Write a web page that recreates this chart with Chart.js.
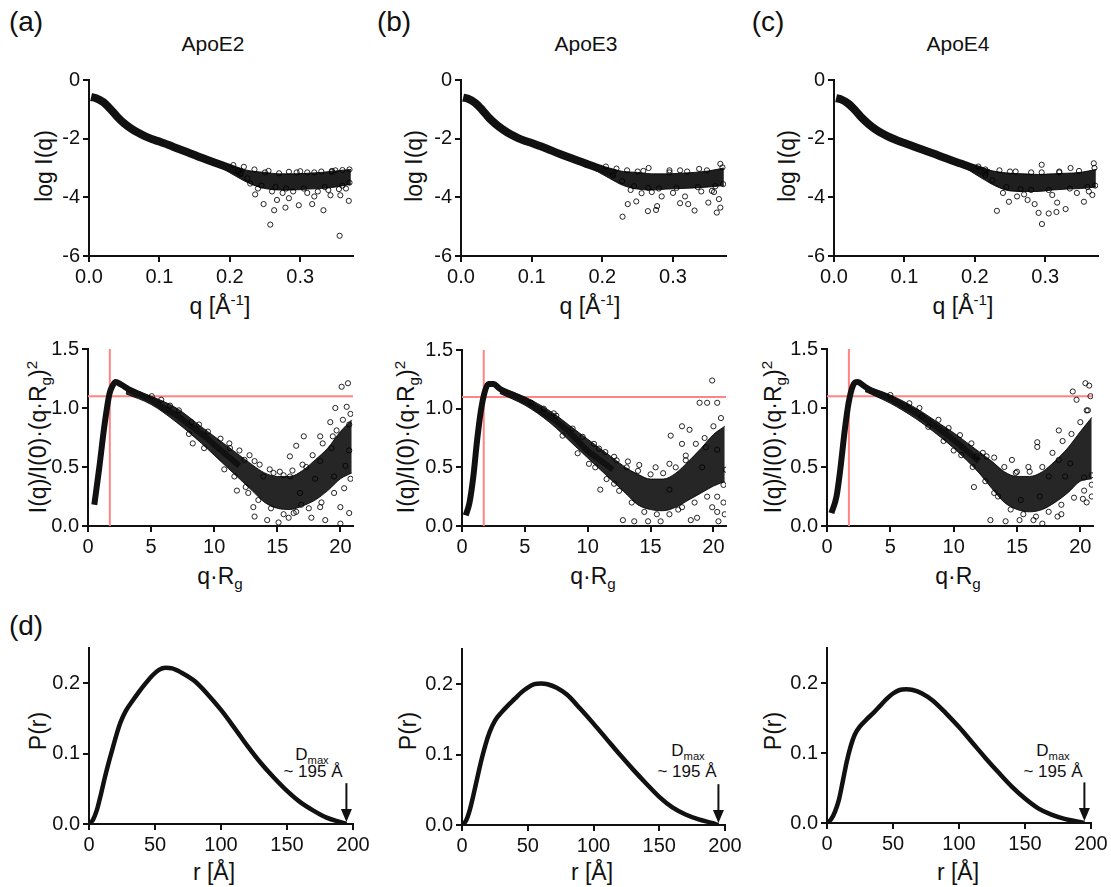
<!DOCTYPE html>
<html>
<head>
<meta charset="utf-8">
<script src="https://cdn.jsdelivr.net/npm/chart.js@4.4.0/dist/chart.umd.min.js"></script>
<style>
  body{margin:0;background:#fff;}
  #fig{position:relative;width:1111px;height:887px;overflow:hidden;font-family:"Liberation Sans",Arial,sans-serif;color:#111;}
  #fig canvas{position:absolute;}
  .t{position:absolute;white-space:nowrap;line-height:1;transform:translate(-50%,-50%);}
  .rot{transform:translate(-50%,-50%) rotate(-90deg);}
  .sup{font-size:0.66em;position:relative;top:-0.6em;}
  .sub{font-size:0.66em;position:relative;top:0.35em;}
  .lab{font-size:28px;}
  .ttl{font-size:21px;}
  .ax{font-size:23px;}
  .dm{font-size:17px;}
</style>
</head>
<body>
<div id="fig">
  <div class="t lab" style="left:26px;top:22px">(a)</div>
  <div class="t lab" style="left:394px;top:22px">(b)</div>
  <div class="t lab" style="left:768px;top:22px">(c)</div>
  <div class="t lab" style="left:26px;top:626px">(d)</div>

  <div class="t ttl" style="left:213px;top:43px">ApoE2</div>
  <div class="t ttl" style="left:586px;top:43px">ApoE3</div>
  <div class="t ttl" style="left:958px;top:43px">ApoE4</div>

  <div class="t ax rot" style="left:44px;top:166px">log I(q)</div>
  <div class="t ax rot" style="left:414px;top:166px">log I(q)</div>
  <div class="t ax rot" style="left:787px;top:166px">log I(q)</div>
  <div class="t ax" style="left:220px;top:306px">q [Å<span class="sup">-1</span>]</div>
  <div class="t ax" style="left:590px;top:306px">q [Å<span class="sup">-1</span>]</div>
  <div class="t ax" style="left:963px;top:306px">q [Å<span class="sup">-1</span>]</div>

  <div class="t ax rot" style="left:38px;top:437px">I(q)/I(0)·(q·R<span class="sub">g</span>)<span class="sup">2</span></div>
  <div class="t ax rot" style="left:406px;top:437px">I(q)/I(0)·(q·R<span class="sub">g</span>)<span class="sup">2</span></div>
  <div class="t ax rot" style="left:773px;top:437px">I(q)/I(0)·(q·R<span class="sub">g</span>)<span class="sup">2</span></div>
  <div class="t ax" style="left:220px;top:576px">q·R<span class="sub">g</span></div>
  <div class="t ax" style="left:593px;top:576px">q·R<span class="sub">g</span></div>
  <div class="t ax" style="left:958px;top:576px">q·R<span class="sub">g</span></div>

  <div class="t ax rot" style="left:38px;top:731px">P(r)</div>
  <div class="t ax rot" style="left:408px;top:731px">P(r)</div>
  <div class="t ax rot" style="left:773px;top:731px">P(r)</div>
  <div class="t ax" style="left:214px;top:872px">r [Å]</div>
  <div class="t ax" style="left:592px;top:872px">r [Å]</div>
  <div class="t ax" style="left:958px;top:872px">r [Å]</div>

  <div class="t dm" style="left:312px;top:754px">D<span class="sub">max</span></div>
  <div class="t dm" style="left:313px;top:771px">~ 195 Å</div>
  <div class="t dm" style="left:688px;top:750px">D<span class="sub">max</span></div>
  <div class="t dm" style="left:687px;top:771px">~ 195 Å</div>
  <div class="t dm" style="left:1053px;top:750px">D<span class="sub">max</span></div>
  <div class="t dm" style="left:1053px;top:771px">~ 195 Å</div>
</div>
<script>
// ---- row 1: log I(q) vs q ----
const qCore = [0.003,0.01,0.02,0.03,0.04,0.05,0.06,0.07,0.08,0.09,0.10,0.12,0.14,0.16,0.18,0.20,0.22];
const logCoreA = [-0.58,-0.62,-0.75,-0.98,-1.25,-1.48,-1.66,-1.80,-1.92,-2.02,-2.10,-2.28,-2.46,-2.65,-2.83,-3.00,-3.18];
const logCoreB = [-0.60,-0.64,-0.78,-1.02,-1.30,-1.52,-1.70,-1.85,-1.97,-2.07,-2.15,-2.33,-2.52,-2.70,-2.88,-3.05,-3.20];
const logCoreC = [-0.62,-0.66,-0.80,-1.03,-1.30,-1.52,-1.70,-1.84,-1.96,-2.06,-2.15,-2.33,-2.50,-2.68,-2.85,-3.02,-3.18];
const qBand = [0.19,0.21,0.23,0.25,0.27,0.29,0.31,0.33,0.35,0.372];
const logHiA = [-2.86,-3.00,-3.10,-3.15,-3.20,-3.20,-3.18,-3.15,-3.10,-3.05];
const logLoA = [-3.02,-3.30,-3.55,-3.70,-3.75,-3.75,-3.72,-3.70,-3.65,-3.55];
const logHiB = [-2.90,-3.02,-3.12,-3.15,-3.20,-3.20,-3.18,-3.15,-3.10,-3.00];
const logLoB = [-3.08,-3.35,-3.60,-3.72,-3.75,-3.72,-3.70,-3.68,-3.65,-3.60];
const logHiC = [-2.88,-3.02,-3.12,-3.18,-3.20,-3.22,-3.20,-3.18,-3.15,-3.05];
const logLoC = [-3.05,-3.35,-3.62,-3.78,-3.80,-3.80,-3.75,-3.72,-3.70,-3.65];
const logOutA = [[0.236,-3.9],[0.248,-4.23],[0.2575,-4.93],[0.263,-4.44],[0.279,-4.35],[0.298,-4.27],[0.317,-4.23],[0.333,-4.44],[0.356,-5.31],[0.369,-4.12],[0.357,-3.93],[0.343,-3.93],[0.32,-3.97],[0.284,-4.03],[0.267,-4.09],[0.22,-2.96],[0.284,-3.13],[0.3,-3.11],[0.345,-3.13],[0.36,-3.07],[0.229,-3.53],[0.24,-3.7],[0.26,-3.8],[0.275,-3.85],[0.29,-3.8],[0.31,-3.85],[0.325,-3.8],[0.34,-3.75],[0.355,-3.72],[0.365,-3.7],[0.25,-3.15],[0.27,-3.18],[0.31,-3.15],[0.33,-3.12],[0.35,-3.08],[0.212,-3.1],[0.225,-3.35],
  [0.205,-2.9],[0.215,-3.2],[0.235,-3.05],[0.245,-3.6],[0.255,-3.1],[0.265,-3.65],[0.28,-3.7],[0.295,-3.15],[0.305,-3.7],[0.32,-3.15],[0.335,-3.65],[0.345,-3.1],[0.36,-3.6],[0.37,-3.05],[0.37,-3.5]];
const logOutB = [[0.2286,-4.66],[0.248,-4.14],[0.236,-4.23],[0.2645,-4.47],[0.276,-4.43],[0.2775,-4.3],[0.31,-4.2],[0.3305,-4.45],[0.3215,-4.23],[0.35,-4.18],[0.362,-4.52],[0.365,-4.06],[0.367,-4.35],[0.358,-3.82],[0.317,-3.97],[0.284,-3.97],[0.2555,-3.86],[0.2655,-3.0],[0.367,-2.86],[0.337,-3.03],[0.295,-3.08],[0.31,-3.08],[0.24,-3.75],[0.27,-3.82],[0.3,-3.85],[0.34,-3.8],[0.355,-3.78],[0.22,-3.02],[0.228,-3.45],[0.25,-3.12],
  [0.205,-2.95],[0.215,-3.25],[0.235,-3.08],[0.245,-3.62],[0.258,-3.1],[0.265,-3.68],[0.28,-3.7],[0.295,-3.15],[0.305,-3.68],[0.32,-3.12],[0.335,-3.65],[0.348,-3.08],[0.36,-3.62],[0.37,-2.98],[0.371,-3.55]];
const logOutC = [[0.2314,-4.46],[0.2906,-4.53],[0.2954,-4.91],[0.305,-4.55],[0.316,-4.5],[0.329,-4.4],[0.317,-4.18],[0.275,-4.09],[0.2485,-4.15],[0.26,-3.97],[0.355,-4.15],[0.367,-3.92],[0.285,-4.23],[0.369,-2.84],[0.336,-3.0],[0.295,-2.89],[0.24,-3.85],[0.27,-3.9],[0.31,-3.92],[0.345,-3.85],[0.362,-3.8],[0.25,-3.12],[0.28,-3.15],[0.32,-3.12],[0.225,-3.42],[0.215,-3.05],
  [0.205,-2.95],[0.215,-3.25],[0.235,-3.08],[0.245,-3.65],[0.258,-3.12],[0.265,-3.72],[0.28,-3.75],[0.295,-3.15],[0.305,-3.75],[0.32,-3.15],[0.335,-3.7],[0.348,-3.1],[0.36,-3.65],[0.37,-3.0],[0.371,-3.6]];

// ---- row 2: dimensionless Kratky ----
const krXA = [0.5,0.9,1.3,1.7,1.95,2.2,2.6,3.2,4,5,6,7,8,9,10,11,12];
const krYA = [0.18,0.5,0.85,1.12,1.19,1.22,1.2,1.16,1.12,1.07,1.0,0.94,0.86,0.78,0.69,0.6,0.51];
const krXB = [0.3,0.6,0.9,1.2,1.5,1.8,2.1,2.5,3,4,5,6,7,8,9,10,11,12];
const krYB = [0.09,0.2,0.42,0.73,0.98,1.14,1.21,1.21,1.17,1.12,1.07,1.0,0.93,0.85,0.75,0.64,0.56,0.48];
const krXC = [0.35,0.75,1.05,1.4,1.7,2.05,2.4,3,4,5,6,7,8,9,10,11,12];
const krYC = [0.11,0.25,0.48,0.81,1.04,1.19,1.22,1.18,1.12,1.08,1.02,0.96,0.89,0.81,0.73,0.64,0.55];
const krBandX = [3,5,7,9,10,11,12,13,14,15,16,17,18,19,20,20.9];
const krHiA = [1.18,1.1,1.0,0.84,0.76,0.68,0.6,0.52,0.45,0.42,0.42,0.47,0.56,0.66,0.8,0.9];
const krLoA = [1.12,1.03,0.88,0.7,0.6,0.5,0.4,0.3,0.2,0.15,0.14,0.17,0.22,0.3,0.4,0.45];
const krHiB = [1.18,1.1,0.98,0.82,0.74,0.66,0.58,0.5,0.44,0.4,0.4,0.45,0.55,0.66,0.78,0.85];
const krLoB = [1.13,1.03,0.88,0.68,0.58,0.48,0.38,0.28,0.18,0.14,0.13,0.16,0.22,0.28,0.34,0.38];
const krHiC = [1.19,1.11,1.0,0.86,0.79,0.71,0.63,0.55,0.46,0.42,0.42,0.46,0.55,0.66,0.8,0.92];
const krLoC = [1.14,1.04,0.91,0.75,0.66,0.56,0.45,0.32,0.2,0.14,0.12,0.14,0.2,0.28,0.38,0.4];
const krOutA = [[20.1,1.18],[20.6,1.21],[19.6,1.0],[20.5,1.01],[18.4,0.76],[17.1,0.76],[16.5,0.68],[16.0,0.59],[15.5,0.43],[13.2,0.55],[12.4,0.56],[13.2,0.08],[14.2,0.05],[15.1,0.03],[15.9,0.07],[17.7,0.07],[18.8,0.05],[20.0,0.02],[20.0,0.16],[20.7,0.11],[20.7,0.64],[19.3,0.66],[8.3,0.7],[5.05,1.1],[5.8,1.07],[8.2,0.88],[11.25,0.66],[11.8,0.3],[12.7,0.28],[13.9,0.42],[14.7,0.45],[16.8,0.28],[18.0,0.4],[19.5,0.42],[20.4,0.51],[16.3,0.11],[18.4,0.16],[13.1,0.16],[16.9,0.18],[19.2,0.88],[19.7,0.81],[20.7,0.86],[18.4,0.55],[17.3,0.5],[16.0,0.42],
  [6.5,1.02],[7.2,0.98],[8.8,0.86],[9.5,0.8],[10.5,0.74],[11.2,0.7],[12.0,0.64],[12.8,0.6],[13.6,0.52],[14.4,0.48],[15.2,0.46],[16.2,0.47],[17.0,0.52],[17.8,0.6],[18.6,0.7],[19.4,0.76],[20.2,0.9],[20.8,0.95],[10.8,0.48],[11.6,0.42],[12.5,0.33],[13.5,0.22],[14.5,0.15],[15.5,0.1],[16.5,0.12],[17.5,0.15],[18.5,0.2],[19.5,0.28],[20.3,0.32],[20.8,0.4],[9.2,0.66],[8.0,0.78]];
const krOutB = [[19.9,1.24],[18.9,1.05],[19.5,1.05],[20.3,1.05],[17.5,0.85],[18.1,0.82],[16.6,0.77],[15.4,0.5],[14.1,0.52],[13.1,0.5],[10.9,0.66],[12.1,0.59],[10.1,0.53],[12.8,0.05],[13.7,0.04],[14.8,0.04],[15.8,0.04],[18.2,0.05],[18.7,0.07],[20.4,0.04],[20.3,0.12],[20.8,0.2],[19.9,0.16],[20.8,0.35],[21.0,0.48],[20.3,0.65],[5.5,1.05],[7.5,0.94],[11.0,0.31],[12.1,0.36],[16.5,0.31],[17.2,0.14],[17.8,0.56],[16.5,0.53],[19.1,0.5],[19.4,0.67],[17.5,0.7],
  [6.5,1.0],[7.3,0.96],[8.8,0.83],[9.6,0.76],[10.5,0.7],[11.4,0.63],[12.3,0.56],[13.2,0.55],[14.0,0.47],[15.0,0.44],[16.0,0.45],[17.0,0.5],[17.8,0.6],[18.6,0.7],[19.3,0.75],[20.0,0.85],[20.6,0.92],[10.6,0.5],[11.5,0.4],[12.5,0.3],[13.5,0.2],[14.5,0.12],[15.5,0.1],[16.5,0.1],[17.5,0.16],[18.5,0.2],[19.5,0.25],[20.3,0.25],[20.9,0.1],[9.2,0.62],[8.0,0.77]];
const krOutC = [[20.4,1.21],[20.7,1.19],[20.8,1.1],[19.7,1.07],[19.4,1.14],[20.5,0.98],[18.3,0.81],[16.6,0.71],[16.6,0.67],[14.6,0.56],[12.6,0.59],[11.8,0.59],[12.9,0.05],[14.1,0.04],[15.2,0.05],[16.3,0.05],[17.0,0.02],[18.2,0.08],[18.5,0.1],[20.5,0.2],[20.2,0.23],[20.9,0.35],[20.9,0.43],[20.3,0.41],[5.0,1.11],[7.5,0.93],[10.0,0.64],[11.6,0.33],[13.2,0.28],[15.3,0.22],[16.8,0.25],[17.5,0.42],[18.8,0.42],[19.2,0.53],[18.3,0.56],[15.9,0.5],[14.9,0.45],
  [6.5,1.04],[7.3,1.0],[8.8,0.9],[9.6,0.83],[10.5,0.77],[11.4,0.7],[12.3,0.62],[13.2,0.58],[14.0,0.5],[15.0,0.46],[16.0,0.46],[17.0,0.5],[17.8,0.62],[18.6,0.72],[19.3,0.78],[20.0,0.88],[20.6,0.98],[10.6,0.6],[11.5,0.5],[12.5,0.38],[13.5,0.25],[14.5,0.14],[15.5,0.1],[16.5,0.08],[17.5,0.12],[18.5,0.18],[19.5,0.24],[20.3,0.3],[20.9,0.25],[9.2,0.72],[8.0,0.84]];
const guideQRg = 1.73;   // sqrt(3)
const guideLevel = 1.10; // 3/e

// ---- row 3: P(r) ----
const rA = [0,3,6,9,12,15,18,21,24,28,33,38,43,48,53,58,63,70,80,90,100,110,120,130,140,150,160,170,180,190,195];
const prA = [0,0.006,0.02,0.042,0.066,0.088,0.108,0.128,0.145,0.161,0.175,0.188,0.2,0.211,0.219,0.222,0.221,0.215,0.203,0.184,0.162,0.137,0.111,0.087,0.066,0.047,0.031,0.019,0.009,0.003,0];
const rBC = [0,3,6,9,12,15,18,21,25,30,35,40,45,50,55,60,65,72,80,90,100,110,120,130,140,150,160,170,180,190,195];
const prB = [0,0.006,0.022,0.045,0.07,0.094,0.115,0.132,0.148,0.16,0.17,0.179,0.188,0.195,0.2,0.201,0.2,0.195,0.185,0.165,0.144,0.122,0.1,0.079,0.059,0.04,0.025,0.015,0.008,0.003,0];
const prC = [0,0.005,0.016,0.033,0.06,0.088,0.11,0.126,0.138,0.148,0.157,0.167,0.177,0.185,0.19,0.191,0.19,0.185,0.175,0.157,0.137,0.115,0.093,0.072,0.052,0.035,0.021,0.012,0.006,0.002,0];
const dmax = 195;
const arrowFrom = 0.058, arrowTo = 0.003;

const FONT = '"Liberation Sans", Arial, sans-serif';
const PAD = 20, YW = 62, XH = 40;
const fig = document.getElementById('fig');

function pts(xs, ys){ return xs.map((x,i)=>({x:x, y:ys[i]})); }
function pairs(arr){ return arr.map(p=>({x:p[0], y:p[1]})); }

function axis(min, max, step, dec, isX){
  return {
    type:'linear', min:min, max:max, position: isX ? 'bottom' : 'left',
    ticks:{ stepSize:step, includeBounds:false, autoSkip:false, maxRotation:0, padding:3,
      color:'#111', font:{family:FONT, size:20}, callback:v=>Number(v).toFixed(dec) },
    grid:{ display:true, drawOnChartArea:false, drawTicks:true, tickLength:6, color:'#111', lineWidth:2 },
    border:{ display:true, color:'#111', width:2 },
    afterFit(s){ if(isX) s.height = XH; else s.width = YW; }
  };
}

function makeChart(area, xs, ys, datasets, plugins){
  const cv = document.createElement('canvas');
  const w = area.r - area.l + YW + 2*PAD, h = area.b - area.t + XH + 2*PAD;
  cv.width = w; cv.height = h;
  cv.style.left = (area.l - PAD - YW) + 'px';
  cv.style.top = (area.t - PAD) + 'px';
  cv.style.width = w + 'px'; cv.style.height = h + 'px';
  fig.appendChild(cv);
  return new Chart(cv, {
    type:'line',
    data:{ datasets:datasets },
    options:{
      responsive:false, animation:false, events:[],
      layout:{ padding:PAD },
      plugins:{ legend:{display:false}, tooltip:{enabled:false} },
      scales:{ x:xs, y:ys }
    },
    plugins: plugins || []
  });
}

function core(data, width){
  return { data:data, borderColor:'#111', borderWidth:width, pointRadius:0, fill:false,
    cubicInterpolationMode:'monotone', order:2 };
}
function band(hi, lo, color){
  return [
    { data:hi, borderColor:color, borderWidth:1, pointRadius:0, fill:false, cubicInterpolationMode:'monotone', order:3 },
    { data:lo, borderColor:color, borderWidth:1, pointRadius:0, fill:'-1', backgroundColor:color, cubicInterpolationMode:'monotone', order:3 }
  ];
}
function circles(data){
  return { data:data, showLine:false, pointRadius:2.6, pointBorderWidth:1,
    pointBorderColor:'rgba(0,0,0,0.85)', pointBackgroundColor:'rgba(0,0,0,0)', order:1 };
}
function guide(data){
  return { data:data, borderColor:'#ff8585', borderWidth:2, pointRadius:0, fill:false, order:10 };
}

// row 1
function logPanel(area, coreY, hi, lo, out){
  makeChart(area, axis(0, 0.375, 0.1, 1, true), axis(-6, 0, 2, 0, false), [
    core(pts(qCore, coreY), 8),
    ...band(pts(qBand, hi), pts(qBand, lo), 'rgba(0,0,0,0.88)'),
    circles(pairs(out))
  ]);
}
logPanel({l:89, t:80, r:353, b:256}, logCoreA, logHiA, logLoA, logOutA);
logPanel({l:461, t:80, r:726, b:256}, logCoreB, logHiB, logLoB, logOutB);
logPanel({l:834, t:80, r:1098, b:256}, logCoreC, logHiC, logLoC, logOutC);

// row 2
function kratkyPanel(area, xs, ys, hi, lo, out){
  makeChart(area, axis(0, 21, 5, 0, true), axis(0, 1.5, 0.5, 1, false), [
    guide([{x:guideQRg, y:0}, {x:guideQRg, y:1.5}]),
    guide([{x:0, y:guideLevel}, {x:21, y:guideLevel}]),
    core(pts(xs, ys), 6),
    ...band(pts(krBandX, hi), pts(krBandX, lo), 'rgba(0,0,0,0.85)'),
    circles(pairs(out))
  ]);
}
kratkyPanel({l:88, t:349, r:353, b:526}, krXA, krYA, krHiA, krLoA, krOutA);
kratkyPanel({l:462, t:350, r:726, b:526}, krXB, krYB, krHiB, krLoB, krOutB);
kratkyPanel({l:827, t:349, r:1093, b:526}, krXC, krYC, krHiC, krLoC, krOutC);

// row 3
const arrowPlugin = {
  id:'dmaxArrow',
  afterDatasetsDraw(c){
    const x = c.scales.x.getPixelForValue(dmax);
    const y1 = c.scales.y.getPixelForValue(arrowFrom);
    const y2 = c.scales.y.getPixelForValue(arrowTo);
    const ctx = c.ctx;
    ctx.save();
    ctx.strokeStyle = '#111'; ctx.fillStyle = '#111'; ctx.lineWidth = 2;
    ctx.beginPath(); ctx.moveTo(x, y1); ctx.lineTo(x, y2 - 10); ctx.stroke();
    ctx.beginPath(); ctx.moveTo(x - 5.5, y2 - 13); ctx.lineTo(x + 5.5, y2 - 13); ctx.lineTo(x, y2); ctx.closePath(); ctx.fill();
    ctx.restore();
  }
};
function prPanel(area, rs, ps){
  makeChart(area, axis(0, 200, 50, 0, true), axis(0, 0.25, 0.1, 1, false), [
    core(pts(rs, ps), 4.5)
  ], [arrowPlugin]);
}
prPanel({l:89, t:648, r:353, b:824}, rA, prA);
prPanel({l:462, t:649, r:725, b:825}, rBC, prB);
prPanel({l:827, t:648, r:1091, b:823}, rBC, prC);
</script>
</body>
</html>
